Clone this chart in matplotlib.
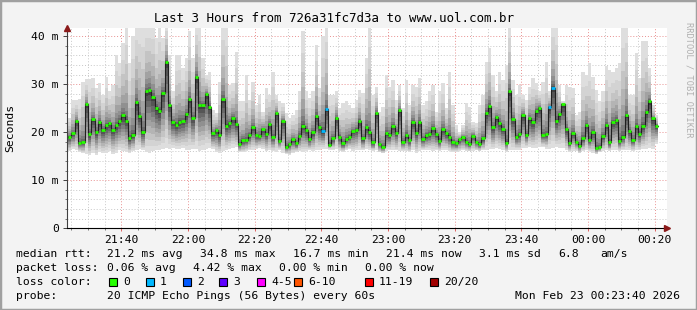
import numpy as np
import pandas as pd
import matplotlib
matplotlib.use('Agg')
import matplotlib.pyplot as plt
import matplotlib.dates as mdates
from matplotlib.patches import Rectangle

plt.rcParams['font.family'] = ['DejaVu Sans Mono']

# median rtt per minute (ms)
med = [19.1, 19.8, 22.4, 17.8, 18.0, 25.8, 19.6, 22.7, 20.1, 22.1, 20.5, 21.5, 21.9, 20.5, 21.5,
       22.4, 23.5, 22.4, 18.7, 19.4, 26.2, 23.3, 20.0, 28.6, 28.8, 27.3, 25.1, 24.4, 28.2, 34.7,
       25.7, 22.2, 21.5, 22.2, 22.4, 23.7, 26.9, 23.0, 31.5, 25.6, 25.6, 27.9, 25.3, 19.8, 20.5,
       19.4, 26.9, 21.4, 21.9, 23.0, 21.7, 17.6, 18.3, 18.4, 19.4, 21.0, 19.4, 19.3, 20.6,
       19.6, 21.7, 19.0, 24.0, 18.2, 22.4, 17.0, 17.5, 18.5, 17.7, 19.3, 21.4, 20.5, 18.5, 20.0,
       23.4, 21.0, 20.2, 24.8, 17.4, 18.7, 23.0, 19.1, 17.7, 18.6, 19.0, 20.3, 20.5, 22.4, 18.7,
       21.0, 20.0, 17.9, 24.0, 17.5, 16.9, 19.8, 19.4, 21.2, 19.9, 24.6, 18.0, 19.4, 18.3, 22.2,
       19.9, 22.2, 18.6, 19.4, 19.6, 20.8, 19.6, 18.2, 20.7, 19.8, 19.1, 17.9, 17.7, 18.5, 19.0,
       18.0, 17.6, 19.3, 18.0, 17.5, 18.7, 24.0, 25.5, 21.0, 23.1, 21.9, 20.7, 17.8, 28.5, 22.8,
       19.0, 19.6, 23.6, 19.5, 22.9, 22.1, 24.5, 25.1, 19.5, 19.6, 25.2, 29.3, 22.4, 23.8, 25.8,
       20.7, 17.7, 19.9, 18.0, 17.2, 18.7, 21.5, 18.4, 20.1, 16.7, 16.9, 19.2, 21.6, 17.9, 22.1,
       22.6, 18.2, 19.1, 23.5, 20.3, 18.4, 21.2, 19.6, 21.3, 24.2, 26.5, 22.9, 21.4]

# slowest ping per minute (ms)
hi = [23.0, 26.7, 26.7, 27.0, 30.5, 31.0, 31.1, 31.2, 29.2, 30.2, 27.8, 31.4, 28.5, 29.8, 36.1,
      34.4, 38.5, 43.0, 34.4, 40.0, 43.0, 43.0, 43.0, 43.0, 43.0, 43.0, 39.6, 43.0, 39.6, 43.0,
      36.1, 28.5, 36.1, 36.1, 33.3, 35.4, 41.0, 35.4, 43.0, 43.0, 35.4, 32.0, 32.6, 24.6, 24.0,
      30.5, 43.0, 43.0, 29.8, 30.2, 36.8, 26.4, 26.4, 32.0, 26.7, 30.5, 25.7, 27.8, 24.3,
      29.2, 27.8, 32.6, 27.8, 26.4, 26.0, 24.0, 22.9, 23.6, 24.6, 28.5, 41.0, 28.5, 27.1, 28.5,
      38.2, 29.2, 40.0, 43.0, 27.8, 27.8, 28.5, 25.0, 26.0, 26.4, 25.7, 25.0, 26.7, 28.8, 28.1,
      35.4, 43.0, 27.8, 29.5, 24.3, 25.3, 32.0, 29.5, 30.9, 26.7, 29.8, 25.0, 30.9, 25.7, 29.8,
      29.5, 31.2, 25.7, 26.4, 28.5, 29.8, 24.3, 28.5, 30.2, 25.0, 32.6, 25.7, 21.5, 20.1, 21.5,
      26.0, 25.3, 22.2, 21.9, 25.7, 27.8, 34.7, 37.5, 32.0, 28.5, 32.6, 30.9, 34.0, 43.0, 30.9,
      27.8, 29.8, 27.8, 26.7, 29.5, 31.2, 30.2, 28.5, 30.5, 34.7, 28.5, 43.0, 43.0, 29.8, 26.4,
      29.8, 29.5, 29.2, 23.6, 24.3, 32.6, 32.0, 34.4, 31.6, 28.8, 26.4, 28.5, 33.7, 33.0, 32.6,
      33.3, 34.4, 43.0, 43.0, 27.8, 27.8, 36.4, 31.2, 38.9, 38.9, 33.3, 25.7, 23.6]

# fastest ping per minute (ms)
lo = [16.0, 16.5, 16.2, 15.8, 15.6, 15.5, 15.2, 15.6, 15.2, 15.8, 15.6, 15.6, 16.0, 15.4, 15.6,
      16.2, 16.0, 15.8, 15.6, 16.0, 16.3, 16.5, 16.2, 15.8, 15.6, 16.0, 16.2, 16.4, 16.5, 16.8,
      16.5, 16.8, 16.6, 16.5, 16.8, 16.4, 16.2, 16.6, 16.5, 16.0, 16.4, 16.6, 16.8, 16.5, 15.8,
      15.6, 16.0, 16.2, 16.5, 16.8, 16.9, 15.8, 15.8, 16.0, 16.2, 16.4, 16.5, 16.8, 16.5,
      16.0, 16.2, 16.0, 15.8, 16.2, 15.6, 15.4, 15.3, 15.6, 15.8, 16.0, 15.8, 16.0, 16.2, 16.0,
      16.2, 16.4, 16.5, 16.6, 16.4, 16.3, 16.5, 16.0, 15.8, 16.2, 16.5, 16.0, 16.2, 16.4, 16.2,
      16.6, 16.4, 16.0, 16.2, 15.8, 15.6, 16.0, 16.2, 16.4, 16.2, 16.0, 16.1, 16.0, 15.8, 16.2,
      15.6, 16.0, 16.2, 16.3, 16.4, 16.0, 16.2, 16.0, 16.2, 16.4, 16.0, 15.8, 15.8, 16.0, 16.2,
      16.0, 16.0, 16.1, 16.2, 16.0, 16.2, 16.4, 16.6, 16.5, 16.8, 16.6, 16.4, 15.8, 16.2, 16.3,
      16.4, 16.3, 16.7, 16.8, 16.9, 16.7, 16.8, 17.0, 16.9, 16.6, 16.6, 16.7, 17.0, 16.8, 16.8,
      16.2, 15.9, 16.1, 16.0, 15.6, 16.0, 16.2, 16.0, 15.6, 15.4, 15.8, 16.1, 16.2, 16.0, 16.4,
      16.3, 16.1, 16.2, 16.2, 16.3, 16.1, 16.4, 16.2, 16.6, 16.5, 16.8, 16.5, 17.6]

# minutes (index) where one of 20 pings was lost
loss_steps = [76, 77, 144, 145]

loss_labels = ['0', '1', '2', '3', '4-5', '6-10', '11-19', '20/20']
loss_colors = ['#26ff00', '#00b8ff', '#0059ff', '#5e00ff', '#ff00ff', '#ff5500', '#ff0000', '#a10000']

stats_rtt = ['21.2 ms avg', '34.8 ms max', '16.7 ms min', '21.4 ms now', '3.1 ms sd', '6.8', 'am/s']
stats_loss = ['0.06 % avg', '4.42 % max', '0.00 % min', '0.00 % now']

start = pd.Timestamp('2026-02-22 21:23:40')
end = pd.Timestamp('2026-02-23 00:23:40')
times = pd.date_range('2026-02-22 21:24:00', periods=len(med), freq='min')

med = np.array(med)
hi = np.array(hi)
lo = np.array(lo)
x = mdates.date2num(times)
w = 1.0 / 1440

fig = plt.figure(figsize=(6.97, 3.10), dpi=100)
fig.patch.set_facecolor('#f3f3f3')
fig.patches.append(Rectangle((0, 0), 1, 1, transform=fig.transFigure, fill=False,
                             edgecolor='#a0a0a0', lw=2.5, zorder=0))
ax = fig.add_axes([67 / 697, 1 - 228.3 / 310, 600 / 697, 200.3 / 310])
ax.set_facecolor('white')

# smoke, outer layers first (light) -> inner (dark)
nl = 10
for k in range(nl):
    f = (nl - k) / nl
    top = med + (hi - med) * f ** 2.5
    bot = med - (med - lo) * f ** 1.1
    g = 0.87 - 0.62 * (k / (nl - 1)) ** 1.2
    ax.bar(x, top - bot, bottom=bot, width=w, align='edge', color=(g, g, g),
           linewidth=0, antialiased=False, zorder=2)

# median line
xs = np.append(x, x[-1] + w)
ax.step(xs, np.append(med, med[-1]), where='post', color='#202020', lw=0.8, zorder=3)
cols = [loss_colors[1] if i in loss_steps else loss_colors[0] for i in range(len(med))]
ax.hlines(med, x, x + w, colors=cols, lw=2.0, zorder=4)

ax.set_xlim(mdates.date2num(start), mdates.date2num(end))
ax.set_ylim(0, 41.7)
ax.set_yticks([0, 10, 20, 30, 40])
ax.set_yticklabels(['0', '10 m', '20 m', '30 m', '40 m'])
ax.set_yticks(np.arange(2, 42, 2), minor=True)
ax.xaxis.set_major_locator(mdates.MinuteLocator(byminute=[0, 20, 40]))
ax.xaxis.set_minor_locator(mdates.MinuteLocator(byminute=range(0, 60, 5)))
ax.xaxis.set_major_formatter(mdates.DateFormatter('%H:%M'))

ax.grid(which='minor', color='#c8c8c8', ls=(0, (1, 2)), lw=0.7, zorder=1)
ax.grid(which='major', color='#e89090', ls=(0, (1, 2)), lw=0.7, zorder=1)
ax.set_axisbelow(True)

for s in ['top', 'right']:
    ax.spines[s].set_visible(False)
ax.spines['left'].set_color('#404040')
ax.spines['bottom'].set_color('black')
ax.spines['left'].set_linewidth(0.8)
ax.spines['bottom'].set_linewidth(0.8)
ax.spines['left'].set_zorder(5)
ax.spines['bottom'].set_zorder(5)
ax.tick_params(axis='y', which='major', length=3, width=0.7, color='#404040', labelsize=8.2, pad=3)
ax.tick_params(axis='y', which='minor', length=1.5, width=0.6, color='#606060')
ax.tick_params(axis='x', which='major', length=2, width=0.7, color='#e06060', labelsize=8.2, pad=3)
ax.tick_params(axis='x', which='minor', length=1.5, width=0.6, color='#606060')
ax.plot([0], [1.0], marker='^', color='#8b1a1a', ms=4.5, transform=ax.transAxes, clip_on=False, zorder=6)
ax.plot([1.0], [0], marker='>', color='#8b1a1a', ms=4.5, transform=ax.transAxes, clip_on=False, zorder=6)

fig.text(10 / 697, 1 - 128 / 310, 'Seconds', rotation=90, ha='center', va='center', fontsize=8.2)
fig.text(334 / 697, 1 - 19 / 310, 'Last 3 Hours from 726a31fc7d3a to www.uol.com.br',
         ha='center', va='center', fontsize=9)
fig.text(689 / 697, 1 - 80 / 310, 'RRDTOOL / TOBI OETIKER', rotation=-90, ha='center', va='center',
         fontsize=6.2, color='#b0b0b0')

fs = 8.2
def row_y(py):
    return 1 - py / 310

fig.text(16 / 697, row_y(254), 'median rtt:', fontsize=fs, va='center')
for xp, s in zip([107, 200, 293, 386, 479, 558, 600], stats_rtt):
    fig.text(xp / 697, row_y(254), s, fontsize=fs, va='center')
fig.text(16 / 697, row_y(268), 'packet loss:', fontsize=fs, va='center')
for xp, s in zip([107, 193, 279, 365], stats_loss):
    fig.text(xp / 697, row_y(268), s, fontsize=fs, va='center')
fig.text(16 / 697, row_y(282), 'loss color:', fontsize=fs, va='center')
for xp, lab, c in zip([109, 146, 183, 219, 257, 294, 365, 430], loss_labels, loss_colors):
    fig.patches.append(Rectangle((xp / 697, row_y(286)), 8 / 697, 8 / 310, transform=fig.transFigure,
                                 facecolor=c, edgecolor='black', lw=0.8))
    fig.text((xp + 14) / 697, row_y(282), lab, fontsize=fs, va='center')
fig.text(16 / 697, row_y(296), 'probe:', fontsize=fs, va='center')
fig.text(107 / 697, row_y(296), '20 ICMP Echo Pings (56 Bytes) every 60s', fontsize=fs, va='center')
fig.text(680 / 697, row_y(296), 'Mon Feb 23 00:23:40 2026', fontsize=fs, va='center', ha='right')

fig.savefig('out.png', dpi=100, facecolor=fig.get_facecolor())
